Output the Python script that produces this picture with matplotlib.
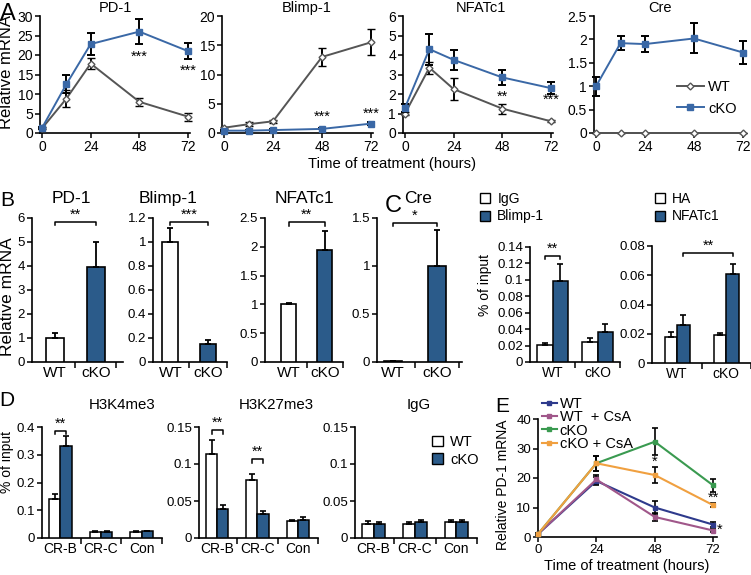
import numpy as np
import matplotlib.pyplot as plt
from matplotlib.patches import Patch
from matplotlib.lines import Line2D
from matplotlib.ticker import FuncFormatter

plt.rcParams['font.family'] = ['Liberation Sans', 'DejaVu Sans']
plt.rcParams['font.size'] = 10

# ---------------- data ----------------
# A: time course, relative mRNA
time_a = [0, 12, 24, 48, 72]
pd1_wt = [1.2, 8.8, 17.8, 8.0, 4.2]
pd1_wt_err = [0.3, 2.2, 1.5, 1.0, 1.0]
pd1_ko = [1.3, 12.5, 22.8, 26.0, 21.0]
pd1_ko_err = [0.3, 2.3, 2.8, 3.3, 2.0]
blimp_wt = [0.9, 1.5, 2.0, 13.0, 15.5]
blimp_wt_err = [0.2, 0.3, 0.3, 1.5, 2.2]
blimp_ko = [0.4, 0.4, 0.5, 0.7, 1.6]
blimp_ko_err = [0.1, 0.1, 0.1, 0.1, 0.2]
nfat_wt = [1.0, 3.35, 2.25, 1.25, 0.6]
nfat_wt_err = [0.1, 0.3, 0.55, 0.25, 0.05]
nfat_ko = [1.3, 4.3, 3.75, 2.85, 2.3]
nfat_ko_err = [0.2, 0.8, 0.5, 0.4, 0.3]
cre_wt = [0, 0, 0, 0, 0]
cre_wt_err = [0, 0, 0, 0, 0]
cre_ko = [1.0, 1.92, 1.9, 2.02, 1.72]
cre_ko_err = [0.2, 0.15, 0.17, 0.32, 0.25]

# B: relative mRNA, WT vs cKO
b_groups = ['WT', 'cKO']
b_pd1 = [1.0, 3.95]
b_pd1_err = [0.22, 1.05]
b_blimp = [1.0, 0.15]
b_blimp_err = [0.12, 0.03]
b_nfat = [1.0, 1.95]
b_nfat_err = [0.02, 0.32]
b_cre = [0.006, 1.0]
b_cre_err = [0.0, 0.38]

# C: ChIP, % of input
c_groups = ['WT', 'cKO']
c1_igg = [0.021, 0.024]
c1_igg_err = [0.002, 0.005]
c1_blimp = [0.098, 0.036]
c1_blimp_err = [0.021, 0.01]
c2_ha = [0.018, 0.019]
c2_ha_err = [0.003, 0.0015]
c2_nfat = [0.026, 0.061]
c2_nfat_err = [0.007, 0.007]

# D: histone ChIP, % of input
d_regions = ['CR-B', 'CR-C', 'Con']
k4_wt = [0.14, 0.022, 0.023]
k4_wt_err = [0.018, 0.002, 0.003]
k4_ko = [0.33, 0.022, 0.025]
k4_ko_err = [0.038, 0.002, 0.002]
k27_wt = [0.114, 0.079, 0.023]
k27_wt_err = [0.019, 0.008, 0.002]
k27_ko = [0.039, 0.033, 0.025]
k27_ko_err = [0.005, 0.004, 0.003]
igg_wt = [0.019, 0.019, 0.021]
igg_wt_err = [0.004, 0.002, 0.003]
igg_ko = [0.019, 0.021, 0.021]
igg_ko_err = [0.003, 0.003, 0.003]

# E: PD-1 mRNA with CsA
time_e = [0, 24, 48, 72]
e_wt = [1.0, 19.0, 10.0, 4.2]
e_wt_err = [0.3, 1.5, 2.2, 0.8]
e_wt_csa = [1.0, 19.5, 6.8, 2.2]
e_wt_csa_err = [0.3, 1.5, 1.3, 0.5]
e_ko = [1.0, 25.0, 32.3, 17.5]
e_ko_err = [0.3, 2.5, 4.5, 2.3]
e_ko_csa = [1.0, 25.0, 21.0, 10.8]
e_ko_csa_err = [0.3, 2.5, 2.7, 0.7]

# ---------------- style ----------------
W, H = 751, 575
BLUE_BAR = '#2b5b8a'
BLUE_LINE = '#3a68a6'
GRAY = '#555555'

fig = plt.figure(figsize=(W / 100, H / 100), dpi=100)
fmt = FuncFormatter(lambda v, p: f'{v:g}')


def ax_px(x0, x1, ytop, ybot, tsize=9.5):
    ax = fig.add_axes([x0 / W, 1 - ybot / H, (x1 - x0) / W, (ybot - ytop) / H])
    for s in ['top', 'right']:
        ax.spines[s].set_visible(False)
    for s in ['left', 'bottom']:
        ax.spines[s].set_linewidth(1.2)
    ax.tick_params(direction='out', length=3.5, width=1.1, labelsize=tsize, pad=1.5)
    ax.yaxis.set_major_formatter(fmt)
    return ax


def ftext(x, y, s, **kw):
    fig.text(x / W, 1 - y / H, s, ha='center', va='center', **kw)


def unclip(cont):
    for ch in cont.get_children():
        ch.set_clip_on(False)


def bracket(ax, x0, x1, y, label, drop):
    ax.plot([x0, x0, x1, x1], [y - drop, y, y, y - drop], color='black', lw=1.1, clip_on=False)
    ax.text((x0 + x1) / 2, y, label, ha='center', va='bottom', fontsize=10.5)


def cat_axis(ax, n, size):
    ax.set_xticks(np.arange(n))
    ax.tick_params(axis='x', length=0, labelsize=size, pad=3)
    ax.set_xticks(np.arange(n) + 0.5, minor=True)
    ax.tick_params(axis='x', which='minor', direction='out', length=4, width=1.1)


# ---------------- A ----------------
a_pos = [(40, 190), (222, 373), (403, 553), (594, 745)]
a_data = [(pd1_wt, pd1_wt_err, pd1_ko, pd1_ko_err, 30, 5),
          (blimp_wt, blimp_wt_err, blimp_ko, blimp_ko_err, 20, 5),
          (nfat_wt, nfat_wt_err, nfat_ko, nfat_ko_err, 6, 1),
          (cre_wt, cre_wt_err, cre_ko, cre_ko_err, 2.5, 0.5)]
a_titles = ['PD-1', 'Blimp-1', 'NFATc1', 'Cre']
a_title_x = [115, 307, 481, 660]
wt_style = dict(color=GRAY, lw=1.4, marker='D', ms=3.5, mfc='white', mec=GRAY, mew=1.0)
ko_style = dict(color=BLUE_LINE, lw=1.4, marker='s', ms=5, mfc=BLUE_LINE, mec=BLUE_LINE)
a_axes = []
for (x0, x1), (wt, wte, ko, koe, ymax, ystep) in zip(a_pos, a_data):
    ax = ax_px(x0, x1, 16, 133, 10)
    c = ax.errorbar(time_a, wt, yerr=wte, ecolor='black', elinewidth=1.4,
                    capsize=3, capthick=1.4, zorder=3, **wt_style)
    unclip(c)
    c = ax.errorbar(time_a, ko, yerr=koe, ecolor='black', elinewidth=1.4,
                    capsize=3, capthick=1.4, zorder=4, **ko_style)
    unclip(c)
    ax.set_xlim(-1, 73)
    ax.set_ylim(0, ymax)
    ax.set_xticks([0, 24, 48, 72])
    ax.set_yticks(np.arange(0, ymax + ystep / 2, ystep))
    a_axes.append(ax)

for t, tx in zip(a_titles, a_title_x):
    ftext(tx, 8, t, fontsize=10.5)

ftext(7, 72, 'Relative mRNA', fontsize=12, rotation=90)
a_axes[0].text(48, 19.5, '***', ha='center', va='center', fontsize=10.5)
a_axes[0].text(72, 16.0, '***', ha='center', va='center', fontsize=10.5)
a_axes[1].text(48, 2.8, '***', ha='center', va='center', fontsize=10.5)
a_axes[1].text(72, 3.2, '***', ha='center', va='center', fontsize=10.5)
a_axes[2].text(48, 1.85, '**', ha='center', va='center', fontsize=10.5)
a_axes[2].text(72, 1.7, '***', ha='center', va='center', fontsize=10.5)
a_axes[3].legend(handles=[Line2D([], [], **wt_style), Line2D([], [], **ko_style)],
                 labels=['WT', 'cKO'], loc='center right', bbox_to_anchor=(1.03, 0.30),
                 frameon=False, fontsize=10.5, handlelength=1.8, handletextpad=0.3,
                 labelspacing=0.5)
ftext(392, 164, 'Time of treatment (hours)', fontsize=10.7)

# ---------------- B ----------------
b_pos = [(32, 123, -0.56, 1.66), (153, 227, -0.46, 1.44),
         (265, 343, -0.65, 1.43), (377, 462, -0.36, 1.57)]
b_data = [(b_pd1, b_pd1_err, 6, 1, 5.85, '**'),
          (b_blimp, b_blimp_err, 1.2, 0.2, 1.17, '***'),
          (b_nfat, b_nfat_err, 2.5, 0.5, 2.43, '**'),
          (b_cre, b_cre_err, 1.5, 0.5, 1.45, '*')]
b_titles = ['PD-1', 'Blimp-1', 'NFATc1', 'Cre']
b_title_x = [71, 168, 304, 418]
b_axes = []
for (x0, x1, xl, xr), (vals, errs, ymax, ystep, by, star) in zip(b_pos, b_data):
    ax = ax_px(x0, x1, 218, 362)
    xs = np.arange(len(b_groups))
    ax.bar(xs, vals, width=0.42, color=['white', BLUE_BAR], edgecolor='black', lw=1.2,
           yerr=[np.zeros(len(errs)), errs], capsize=2.5,
           error_kw=dict(elinewidth=1.3, capthick=1.3, ecolor='black'), zorder=3)
    ax.set_xlim(xl, xr)
    ax.set_ylim(0, ymax)
    ax.set_yticks(np.arange(0, ymax + ystep / 2, ystep))
    cat_axis(ax, 2, 11)
    ax.set_xticklabels(b_groups)
    bracket(ax, 0, 1, by, star, ymax * 0.025)
    b_axes.append(ax)
for t, tx in zip(b_titles, b_title_x):
    ftext(tx, 198, t, fontsize=12.5)
ftext(8, 297, 'Relative mRNA', fontsize=12.5, rotation=90)

# ---------------- C ----------------
def grouped(ax, series, errs, colors, w):
    n = len(series)
    xs = np.arange(len(series[0]))
    for i, (v, e, col) in enumerate(zip(series, errs, colors)):
        off = (i - (n - 1) / 2) * w
        ax.bar(xs + off, v, width=w, color=col, edgecolor='black', lw=1.1,
               yerr=[np.zeros(len(e)), e], capsize=2.2,
               error_kw=dict(elinewidth=1.2, capthick=1.2, ecolor='black'), zorder=3)


ax = ax_px(530, 620, 247, 362)
grouped(ax, [c1_igg, c1_blimp], [c1_igg_err, c1_blimp_err], ['white', BLUE_BAR], 0.345)
ax.set_xlim(-0.5, 1.5)
ax.set_ylim(0, 0.14)
ax.set_yticks(np.arange(0, 0.141, 0.02))
cat_axis(ax, 2, 10)
ax.set_xticklabels(c_groups)
ftext(485, 285, '% of input', fontsize=10, rotation=90)
bracket(ax, -0.1725, 0.1725, 0.129, '**', 0.004)

ax = ax_px(652, 751, 246, 363)
grouped(ax, [c2_ha, c2_nfat], [c2_ha_err, c2_nfat_err], ['white', BLUE_BAR], 0.255)
ax.set_xlim(-0.51, 1.36)
ax.set_ylim(0, 0.08)
ax.set_yticks(np.arange(0, 0.081, 0.02))
cat_axis(ax, 2, 10)
ax.set_xticklabels(c_groups)
bracket(ax, 0.1275, 1.1275, 0.0755, '**', 0.002)

leg_kw = dict(loc='upper left', frameon=False, fontsize=10, handlelength=0.75,
              handleheight=0.75, handletextpad=0.5, labelspacing=0.25,
              borderaxespad=0, borderpad=0)
fig.legend(handles=[Patch(fc='white', ec='black', lw=1), Patch(fc=BLUE_BAR, ec='black', lw=1)],
           labels=['IgG', 'Blimp-1'], bbox_to_anchor=(480 / W, 1 - 192 / H), **leg_kw)
fig.legend(handles=[Patch(fc='white', ec='black', lw=1), Patch(fc=BLUE_BAR, ec='black', lw=1)],
           labels=['HA', 'NFATc1'], bbox_to_anchor=(655 / W, 1 - 192 / H), **leg_kw)

# ---------------- D ----------------
d_pos = [(42, 162), (199, 318), (355, 477)]
d_data = [(k4_wt, k4_wt_err, k4_ko, k4_ko_err, 0.4, 0.1),
          (k27_wt, k27_wt_err, k27_ko, k27_ko_err, 0.15, 0.05),
          (igg_wt, igg_wt_err, igg_ko, igg_ko_err, 0.15, 0.05)]
d_titles = ['H3K4me3', 'H3K27me3', 'IgG']
d_title_x = [122, 276, 419]
d_axes = []
for (x0, x1), (wt, wte, ko, koe, ymax, ystep) in zip(d_pos, d_data):
    ax = ax_px(x0, x1, 427, 538, 9.5)
    grouped(ax, [wt, ko], [wte, koe], ['white', BLUE_BAR], 0.28)
    ax.set_xlim(-0.45, 2.35)
    ax.set_ylim(0, ymax)
    ax.set_yticks(np.arange(0, ymax + ystep / 2, ystep))
    cat_axis(ax, 3, 10)
    ax.set_xticklabels(d_regions)
    d_axes.append(ax)
for t, tx in zip(d_titles, d_title_x):
    ftext(tx, 405, t, fontsize=10.8)
ftext(7, 462, '% of input', fontsize=10, rotation=90)
bracket(d_axes[0], -0.14, 0.14, 0.385, '**', 0.012)
bracket(d_axes[1], -0.14, 0.14, 0.146, '**', 0.005)
bracket(d_axes[1], 0.86, 1.14, 0.107, '**', 0.005)
fig.legend(handles=[Patch(fc='white', ec='black', lw=1), Patch(fc=BLUE_BAR, ec='black', lw=1)],
           labels=['WT', 'cKO'], loc='upper left', bbox_to_anchor=(432 / W, 1 - 435 / H),
           frameon=False, fontsize=10.5, handlelength=0.75, handleheight=0.75,
           handletextpad=0.5, labelspacing=0.25, borderaxespad=0, borderpad=0)

# ---------------- E ----------------
ax = ax_px(538, 717, 419, 537)
e_series = [(e_wt, e_wt_err, '#2e3a8c', 'WT'),
            (e_wt_csa, e_wt_csa_err, '#a0578a', 'WT  + CsA'),
            (e_ko, e_ko_err, '#3a9a50', 'cKO'),
            (e_ko_csa, e_ko_csa_err, '#f0a040', 'cKO + CsA')]
for vals, errs, col, lab in e_series:
    c = ax.errorbar(time_e, vals, yerr=errs, color=col, lw=1.5, marker='s', ms=3.5,
                    ecolor='black', elinewidth=1.2, capsize=2.5, capthick=1.2,
                    label=lab, zorder=3)
    unclip(c)
ax.set_xlim(0, 73.6)
ax.set_ylim(0, 40)
ax.set_xticks([0, 24, 48, 72])
ax.set_yticks([0, 10, 20, 30, 40])
ftext(503, 485, 'Relative PD-1 mRNA', fontsize=10, rotation=90)
ax.text(48, 25.4, '*', ha='center', va='center', fontsize=10.5)
ax.text(72, 13.2, '**', ha='center', va='center', fontsize=10.5)
ax.text(73.5, 2.4, '*', ha='left', va='center', fontsize=10.5)
handles = [Line2D([], [], color=col, lw=1.5, marker='s', ms=2.5) for _, _, col, _ in e_series]
fig.legend(handles=handles, labels=[s[3] for s in e_series], loc='upper left',
           bbox_to_anchor=(542 / W, 1 - 397 / H), frameon=False, fontsize=10.5,
           handlelength=1.0, handletextpad=0.2, labelspacing=-0.05,
           borderaxespad=0, borderpad=0)
ftext(627, 566, 'Time of treatment (hours)', fontsize=10.5)

# ---------------- panel letters ----------------
for lab, x, y, s in [('A', 8, 14, 17), ('B', 7, 200, 15), ('C', 393, 206, 17),
                     ('D', 7, 400, 15), ('E', 502, 407, 15)]:
    ftext(x, y, lab, fontsize=s)

fig.savefig('out.png', dpi=100)
